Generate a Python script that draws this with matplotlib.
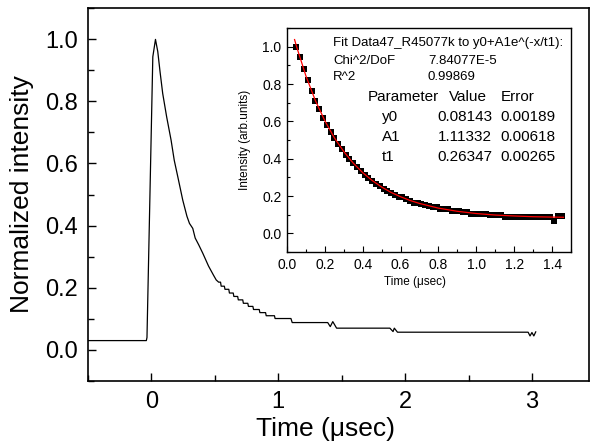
import numpy as np
import matplotlib.pyplot as plt
from matplotlib.ticker import MultipleLocator

plt.rcParams['font.family'] = ['Liberation Sans', 'DejaVu Sans']

# main decay trace (time in usec, normalized intensity)
main_t = [-0.5, -0.04, -0.035, 0.011, 0.032, 0.05, 0.068, 0.089, 0.12, 0.155, 0.18,
          0.208, 0.247, 0.28, 0.30, 0.326, 0.345, 0.373, 0.405, 0.45, 0.49, 0.511,
          0.53, 0.545, 0.55, 0.575, 0.58, 0.61, 0.615, 0.645, 0.65, 0.68, 0.685,
          0.72, 0.725, 0.76, 0.765, 0.80, 0.805, 0.85, 0.855, 0.90, 0.905, 0.97,
          0.975, 1.10, 1.11, 1.39, 1.41, 1.43, 1.46, 1.88, 1.905, 1.915, 1.94,
          2.97, 2.985, 3.0, 3.015, 3.03]
main_y = [0.03, 0.03, 0.04, 0.943, 0.999, 0.96, 0.895, 0.825, 0.75, 0.675, 0.61,
          0.557, 0.482, 0.43, 0.407, 0.391, 0.36, 0.338, 0.311, 0.27, 0.24, 0.225,
          0.218, 0.218, 0.205, 0.205, 0.195, 0.195, 0.183, 0.183, 0.172, 0.172, 0.161,
          0.161, 0.150, 0.150, 0.140, 0.140, 0.130, 0.130, 0.120, 0.120, 0.110, 0.110,
          0.101, 0.101, 0.088, 0.088, 0.075, 0.091, 0.070, 0.070, 0.059, 0.070, 0.057,
          0.057, 0.045, 0.056, 0.045, 0.058]

# inset data points
inset_t = [0.05, 0.07, 0.09, 0.11, 0.13, 0.15, 0.17, 0.19, 0.21, 0.23, 0.25, 0.27,
           0.29, 0.31, 0.33, 0.35, 0.37, 0.39, 0.41, 0.43, 0.45, 0.47, 0.49, 0.51,
           0.53, 0.55, 0.57, 0.59, 0.61, 0.63, 0.65, 0.67, 0.69, 0.71, 0.73, 0.75,
           0.77, 0.79, 0.81, 0.83, 0.85, 0.87, 0.89, 0.91, 0.93, 0.95, 0.97, 0.99,
           1.01, 1.03, 1.05, 1.07, 1.09, 1.11, 1.13, 1.15, 1.17, 1.19, 1.21, 1.23,
           1.25, 1.27, 1.29, 1.31, 1.33, 1.35, 1.37, 1.39, 1.41, 1.43, 1.45]
inset_y = [1.00, 0.945, 0.88, 0.82, 0.765, 0.71, 0.665, 0.62, 0.58, 0.545, 0.51, 0.48,
           0.45, 0.42, 0.40, 0.375, 0.355, 0.335, 0.315, 0.298, 0.282, 0.265, 0.252, 0.238,
           0.228, 0.218, 0.207, 0.195, 0.193, 0.183, 0.175, 0.165, 0.165, 0.158, 0.152, 0.148,
           0.142, 0.140, 0.132, 0.132, 0.128, 0.119, 0.119, 0.119, 0.115, 0.112, 0.104, 0.104,
           0.104, 0.104, 0.104, 0.100, 0.100, 0.100, 0.100, 0.090, 0.090, 0.090, 0.090, 0.090,
           0.088, 0.088, 0.088, 0.088, 0.088, 0.088, 0.088, 0.088, 0.068, 0.092, 0.093]

# fitted curve
fit_t = [0.04, 0.05, 0.10, 0.15, 0.20, 0.25, 0.30, 0.35, 0.40, 0.45, 0.50, 0.55, 0.60,
         0.65, 0.70, 0.80, 0.90, 1.00, 1.10, 1.20, 1.30, 1.40, 1.46]
fit_y = [1.038, 1.002, 0.843, 0.711, 0.603, 0.512, 0.438, 0.376, 0.325, 0.283, 0.248,
         0.219, 0.196, 0.176, 0.160, 0.135, 0.118, 0.106, 0.098, 0.093, 0.089, 0.087, 0.086]

W, H = 591, 447
fig = plt.figure(figsize=(W / 100, H / 100), dpi=100)

def frac(x0, y0, x1, y1):
    return [x0 / W, 1 - y1 / H, (x1 - x0) / W, (y1 - y0) / H]

ax = fig.add_axes(frac(88, 8, 589, 381))
ax.plot(main_t, main_y, color='black', lw=0.9)
ax.set_xlim(-0.5, 3.45)
ax.set_ylim(-0.1, 1.1)
ax.xaxis.set_major_locator(MultipleLocator(1))
ax.xaxis.set_minor_locator(MultipleLocator(0.5))
ax.yaxis.set_major_locator(MultipleLocator(0.2))
ax.yaxis.set_minor_locator(MultipleLocator(0.1))
ax.set_yticks([0.0, 0.2, 0.4, 0.6, 0.8, 1.0])
ax.tick_params(which='both', direction='in', width=1.0)
ax.tick_params(which='major', length=6, labelsize=17, pad=7)
ax.tick_params(which='minor', length=4)
for s in ax.spines.values():
    s.set_linewidth(1.2)
ax.set_xlabel('Time (μsec)', fontsize=19, va='center')
ax.set_ylabel('Normalized intensity', fontsize=19, va='center')
ax.xaxis.set_label_coords((326 - 88) / (589 - 88), -(429 - 381) / (381 - 8))
ax.yaxis.set_label_coords(-(88 - 22) / (589 - 88), 0.5)

ins = fig.add_axes(frac(287, 28, 571, 252))
ins.plot(inset_t, inset_y, 's', color='black', ms=4, mew=0)
ins.plot(fit_t, fit_y, color='red', lw=0.9)
ins.set_xlim(0, 1.5)
ins.set_ylim(-0.1, 1.1)
ins.xaxis.set_major_locator(MultipleLocator(0.2))
ins.xaxis.set_minor_locator(MultipleLocator(0.1))
ins.yaxis.set_major_locator(MultipleLocator(0.2))
ins.yaxis.set_minor_locator(MultipleLocator(0.1))
ins.set_xticks([0.0, 0.2, 0.4, 0.6, 0.8, 1.0, 1.2, 1.4])
ins.set_yticks([0.0, 0.2, 0.4, 0.6, 0.8, 1.0])
ins.tick_params(which='both', direction='in', width=0.8)
ins.tick_params(which='major', length=4, labelsize=10, pad=4)
ins.tick_params(which='minor', length=2.5)
for s in ins.spines.values():
    s.set_linewidth(1.0)
ins.set_xlabel('Time (μsec)', fontsize=8.5, va='center')
ins.set_ylabel('Intensity (arb.units)', fontsize=8.5, va='center')
ins.xaxis.set_label_coords((415 - 287) / (571 - 287), -(282 - 252) / (252 - 28))
ins.yaxis.set_label_coords(-(287 - 245) / (571 - 287), 0.5)

def put(x, y, s, size, ha='left'):
    fig.text(x / W, 1 - y / H, s, fontsize=size, ha=ha, va='center')

put(333, 43, 'Fit Data47_R45077k to y0+A1e^(-x/t1):', 9.5)
put(333, 60.5, 'Chi^2/DoF', 9.5)
put(428, 60.5, '7.84077E-5', 9.5)
put(333, 77, 'R^2', 9.5)
put(428, 77, '0.99869', 9.5)
put(368, 97, 'Parameter', 11)
put(449, 97, 'Value', 11)
put(501, 97, 'Error', 11)
for yy, name, val, err in [(117, 'y0', '0.08143', '0.00189'),
                           (137, 'A1', '1.11332', '0.00618'),
                           (157, 't1', '0.26347', '0.00265')]:
    put(382, yy, name, 11)
    put(492, yy, val, 11, ha='right')
    put(500, yy, err, 11)

fig.savefig('out.png', dpi=100)
